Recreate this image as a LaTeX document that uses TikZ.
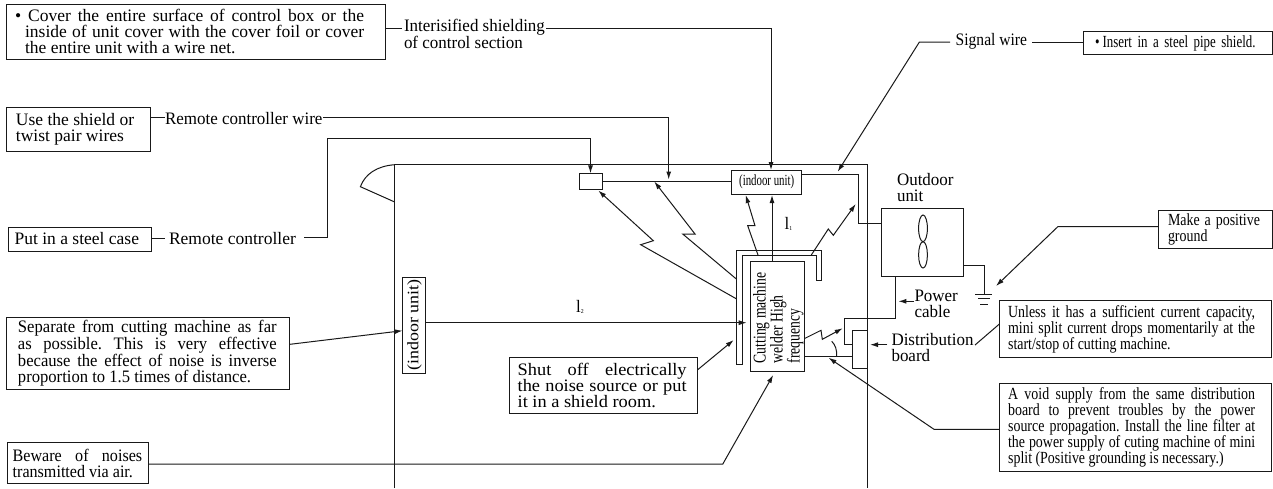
\documentclass[tikz,border=0pt]{standalone}
\usepackage{fontspec}
\usetikzlibrary{arrows.meta}
\setmainfont{Liberation Serif}
\AtBeginDocument{\frenchspacing}
\newfontfamily\famw[FakeStretch=1.12]{Liberation Serif}
\newfontfamily\famx[FakeStretch=1.05]{Liberation Serif}
\newfontfamily\fama[FakeStretch=0.97]{Liberation Serif}
\newfontfamily\famh[FakeStretch=0.95]{Liberation Serif}
\newfontfamily\famb[FakeStretch=0.92]{Liberation Serif}
\newfontfamily\famc[FakeStretch=0.89]{Liberation Serif}
\newfontfamily\famd[FakeStretch=0.82]{Liberation Serif}
\newfontfamily\fame[FakeStretch=0.76]{Liberation Serif}
\newfontfamily\famf[FakeStretch=0.70]{Liberation Serif}
\newcommand\fz{\fontsize{17.5}{16}\selectfont}
\newcommand\fx{\famx\fontsize{17.5}{16}\selectfont}
\newcommand\fa{\fama\fontsize{17.5}{16}\selectfont}
\newcommand\fh{\famh\fontsize{17.5}{16}\selectfont}
\newcommand\fab{\famb\fontsize{17.5}{16}\selectfont}
\newcommand\fac{\famc\fontsize{17.5}{16}\selectfont}
\newcommand\fb{\famd\fontsize{17}{16}\selectfont}
\newcommand\fe{\fame\fontsize{17}{16}\selectfont}
\newcommand\fc{\famf\fontsize{15.5}{14}\selectfont}
\newcommand\jl[2]{\makebox[#1pt][s]{#2}}
\newcommand\subl[1]{l\raisebox{-1.5pt}{\fontsize{6}{6}\selectfont #1}}
\tikzset{
  ln/.style={draw=black!90,line width=1pt},
  ar/.style={ln,-{Latex[length=8pt,width=5pt]}},
  tbox/.style={draw=black!90,line width=1pt,fill=white,align=flush left,inner ysep=0pt,outer sep=0pt},
  lbl/.style={inner sep=0pt,outer sep=0pt,align=flush left,font=\fa,anchor=west},
  rot/.style={rotate=90,inner sep=0pt,align=flush left},
  plain/.style={draw=black!90,line width=1pt,inner sep=0pt,outer sep=0pt}
}
\begin{document}
\begin{tikzpicture}[x=1pt,y=-1pt]
\useasboundingbox (0,0) rectangle (1273,488);
% room
\coordinate (roofA) at (394.7,164.7);
\coordinate (roofB) at (360.4,186.7);
\coordinate (roofC) at (394.7,202);
\coordinate (roofR) at (867,164.7);
\coordinate (wallL) at (394.7,488);
\coordinate (wallR) at (867,488);
\draw[ln] (wallL) -- (roofA) -- (roofR) -- (wallR);
\draw[ln] (roofA) .. controls (377,166) and (365,174) .. (roofB) -- (roofC);
% boxes
\node[tbox,font=\fz,inner xsep=9pt,text width=361.6pt,minimum height=54.5pt] (b1) at (195.9,31.8)
 {\makebox[13pt][l]{•}\jl{336}{Cover the entire surface of control box or the}\\
  \hspace*{10pt}\jl{339}{inside of unit cover with the cover foil or cover}\\
  \hspace*{10pt}the entire unit with a wire net.};
\node[tbox,font=\fz,inner xsep=10pt,text width=124pt,minimum height=43.8pt] (b2) at (78,129.6)
 {Use the shield or\\twist pair wires};
\node[tbox,font=\fz,inner xsep=6pt,text width=130.8pt,minimum height=24pt] (b3) at (80,239)
 {Put in a steel case};
\node[tbox,font=\fh,inner xsep=11.5pt,text width=260.5pt,minimum height=72pt] (b4) at (148.2,353.3)
 {\jl{258.7}{Separate from cutting machine as far}\\
  \jl{258.7}{as possible. This is very effective}\\
  \jl{258.7}{because the effect of noise is inverse}\\
  proportion to 1.5 times of distance.};
\node[tbox,font=\fab,inner xsep=5.7pt,text width=129.6pt,minimum height=40.6pt] (b5) at (77.5,463)
 {\jl{129.5}{Beware of noises}\\transmitted via air.};
\node[tbox,font=\fx,inner xsep=8.6pt,text width=171.1pt,minimum height=56pt] (b6) at (603.2,385.3)
 {\jl{169}{Shut off electrically}\\\jl{169}{the noise source or put}\\it in a shield room.};
\node[tbox,font=\fe,inner xsep=12pt,text width=165pt,minimum height=23pt] (b7) at (1177.5,43.2)
 {•\hspace{3pt}\jl{153}{Insert in a steel pipe shield.}};
\node[tbox,font=\fb,inner xsep=10pt,text width=94pt,minimum height=38pt] (b8) at (1215,229)
 {\jl{92}{Make a positive}\\ground};
\node[tbox,font=\fb,inner xsep=8.7pt,text width=255pt,minimum height=56.6pt] (b9) at (1135.6,329)
 {\jl{247}{Unless it has a sufficient current capacity,}\\
  \jl{247}{mini split current drops momentarily at the}\\
  start/stop of cutting machine.};
\node[tbox,font=\fb,inner xsep=8.7pt,text width=255pt,minimum height=87.7pt] (b10) at (1135.6,427.2)
 {\jl{247}{A void supply from the same distribution}\\
  \jl{247}{board to prevent troubles by the power}\\
  \jl{247}{source propagation. Install the line filter at}\\
  \jl{247}{the power supply of cuting machine of mini}\\
  split (Positive grounding is necessary.)};
% labels
\node[lbl] (intS) at (404,34) {Interisified shielding\\of control section};
\node[lbl] (rcw) at (165,118.5) {Remote controller wire};
\node[lbl,font=\fz] (rc) at (169,238.5) {Remote controller};
\node[lbl,font=\fac] (sig) at (955.7,41) {Signal wire};
\node[lbl] (out) at (897,187.5) {Outdoor\\unit};
\node[lbl] (pow) at (914.5,304) {Power\\cable};
\node[lbl] (dist) at (891.5,348) {Distribution\\board};
\node[inner sep=0pt] (l1) at (788.5,224) {\fa\subl{1}};
\node[inner sep=0pt] (l2) at (580,306.7) {\fa\subl{2}};
% units
\node[plain,font=\fc,minimum width=70pt,minimum height=24pt] (indoor) at (766.7,182) {(indoor unit)};
\node[plain,minimum width=23pt,minimum height=15.7pt] (remote) at (590.8,181.2) {};
\node[plain,minimum width=82.8pt,minimum height=68pt] (outdoor) at (922.4,242) {};
\draw[ln] (923,228.35) ellipse (4.4pt and 13.35pt);
\draw[ln] (923,254.85) ellipse (4.4pt and 13.15pt);
\node[tbox,rotate=90,inner sep=0pt,align=center,font=\famw\fontsize{16}{16}\selectfont,minimum width=96.3pt,minimum height=23pt] (indoorL) at (414.4,325.2) {(indoor unit)};
\node[plain,fill=white,minimum width=53.6pt,minimum height=109.7pt] (welder) at (777.5,316.2) {};
\node[rot,font=\fame\fontsize{18}{17}\selectfont,anchor=north west] (wtxt) at (753,363.5)
 {Cutting machine\\welder High\\frequency};
\node[plain,minimum width=15.3pt,minimum height=38pt] (board) at (859.7,349.3) {};
% shield
\coordinate (s1) at (736.7,364);
\coordinate (s2) at (736.7,250);
\coordinate (s3) at (821.7,250);
\coordinate (s4) at (821.7,280.3);
\coordinate (s5) at (816,280.3);
\coordinate (s6) at (816,255);
\coordinate (s7) at (742.3,255);
\coordinate (s8) at (742.3,364);
\draw[ln] (s1) -- (s2) -- (s3) -- (s4) -- (s5) -- (s6) -- (s7) -- (s8) -- cycle;
% wiring
\draw[ln] (remote.east) -- (indoor.west |- remote.east);
\draw[ln] (indoor.east |- 0,174.5) -- (858,174.5) -- (858,223.3) -- (outdoor.west |- 0,223.3);
\coordinate (g1) at (984.4,265);
\coordinate (g2) at (984.4,294);
\draw[ln] (outdoor.east |- g1) -- (g1) -- (g2);
\draw[ln] (975,294) -- (992.4,294) (978.3,298.5) -- (989.6,298.5) (980,304) -- (988,304);
\draw[ln] (895.5,276) -- (895.5,318.3) -- (844,318.3) -- (844,344.3) -- (board.west |- 0,344.3);
\draw[ln] (welder.east |- 0,356.7) -- (board.west |- 0,356.7);
\draw[ln] (831.7,341.3) .. controls (835.5,345) and (837,350) .. (836.7,356.7);
% leader lines
\draw[ln] (b1.east |- 0,28) -- (402,28);
\draw[ar] (546,28) -- (771,28) -- (indoor.north -| 771,0);
\draw[ln] (b2.east |- 0,117) -- (rcw.west |- 0,117);
\draw[ar] (323,117.5) -- (668.7,117.5) -- (668.7,179.5);
\draw[ln] (b3.east |- 0,238) -- (164.5,238);
\draw[ar] (304,237.5) -- (327,237.5) -- (327,138.5) -- (590.5,138.5) -- (remote.north -| 590.5,0);
\draw[ln] (1032,42) -- (b7.west |- 0,42);
\draw[ar] (950,42) -- (919.4,42) -- (837.7,171.7);
\draw[ar] (b8.west |- 0,226.5) -- (1058,226.5) -- (996,286);
\draw[ar] (914,301.3) -- (898.4,301.3);
\draw[ar] (887.3,344.7) -- (870,344.7);
\draw[ln] (b9.west |- 0,324) -- (975,345);
\draw[ar] (b10.west |- 0,429.3) -- (934,429.3) -- (828.5,357.7);
\draw[ar] (b4.east |- 0,344.3) -- (402.5,330.7);
\draw[ar] (b5.east |- 0,464) -- (722.8,464) -- (773.2,375);
\draw[ar] (b6.east |- 0,370) -- (733.7,340);
\draw[ar] (indoorL.south |- 0,322.7) -- (746.7,322.7);
\draw[ar] (772,261.3) -- (772,195);
% noise zigzags
\draw[ar] (736.7,299) -- (640.7,244.7) -- (653.3,240.7) -- (598.3,190.5);
\draw[ar] (736.7,279.3) -- (682.7,234) -- (695,234) -- (654.3,181.5);
\draw[ar] (758,255) -- (747.7,225.7) -- (755,225.7) -- (745.7,195);
\draw[ar] (811.3,255) -- (828.3,229) -- (833.3,235.3) -- (855.7,204);
\draw[ar] (805,338.3) -- (821,330.3) -- (822.3,339.3) -- (842.7,328.3);
\end{tikzpicture}
\end{document}
